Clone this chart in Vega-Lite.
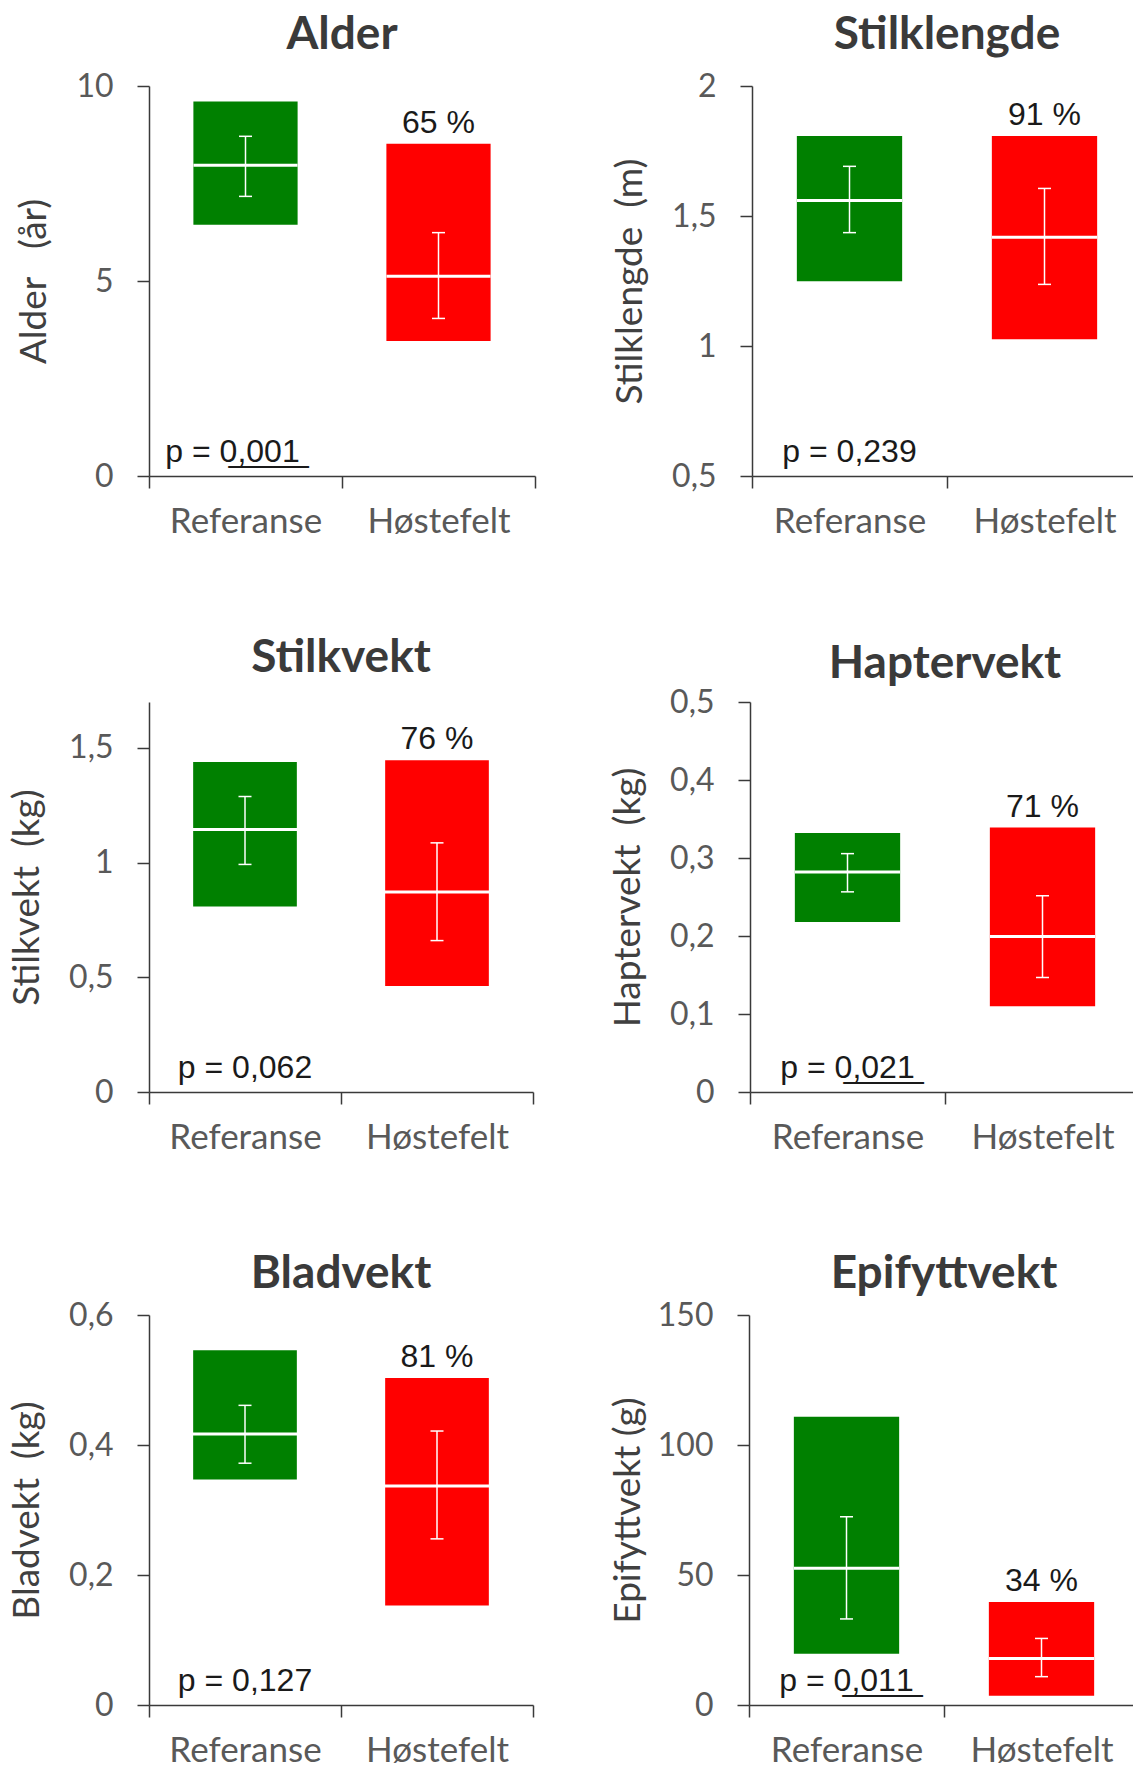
{
  "$schema": "https://vega.github.io/schema/vega-lite/v6.json",
  "padding": {"left": 8, "top": 12, "right": 0, "bottom": 0},
  "background": "white",
  "datasets": {
    "d": [
      {"panel": "Alder", "group": "Referanse", "lo": 6.44, "hi": 9.6, "mean": 7.97, "elo": 7.17, "ehi": 8.71, "pct": null, "p": "p = 0\u0332,\u03320\u03320\u03321\u0332"},
      {"panel": "Alder", "group": "Høstefelt", "lo": 3.46, "hi": 8.52, "mean": 5.12, "elo": 4.04, "ehi": 6.24, "pct": "65 %", "p": null},
      {"panel": "Stilklengde", "group": "Referanse", "lo": 1.249, "hi": 1.808, "mean": 1.56, "elo": 1.436, "ehi": 1.691, "pct": null, "p": "p = 0,239"},
      {"panel": "Stilklengde", "group": "Høstefelt", "lo": 1.026, "hi": 1.808, "mean": 1.418, "elo": 1.237, "ehi": 1.606, "pct": "91 %", "p": null},
      {"panel": "Stilkvekt", "group": "Referanse", "lo": 0.809, "hi": 1.438, "mean": 1.144, "elo": 0.992, "ehi": 1.288, "pct": null, "p": "p = 0,062"},
      {"panel": "Stilkvekt", "group": "Høstefelt", "lo": 0.462, "hi": 1.446, "mean": 0.872, "elo": 0.66, "ehi": 1.086, "pct": "76 %", "p": null},
      {"panel": "Haptervekt", "group": "Referanse", "lo": 0.218, "hi": 0.332, "mean": 0.282, "elo": 0.2566, "ehi": 0.3056, "pct": null, "p": "p = 0\u0332,\u03320\u03322\u03321\u0332"},
      {"panel": "Haptervekt", "group": "Høstefelt", "lo": 0.11, "hi": 0.339, "mean": 0.1995, "elo": 0.1468, "ehi": 0.2516, "pct": "71 %", "p": null},
      {"panel": "Bladvekt", "group": "Referanse", "lo": 0.347, "hi": 0.5456, "mean": 0.417, "elo": 0.372, "ehi": 0.461, "pct": null, "p": "p = 0,127"},
      {"panel": "Bladvekt", "group": "Høstefelt", "lo": 0.153, "hi": 0.503, "mean": 0.337, "elo": 0.2556, "ehi": 0.4215, "pct": "81 %", "p": null},
      {"panel": "Epifyttvekt", "group": "Referanse", "lo": 19.7, "hi": 110.9, "mean": 52.6, "elo": 33.1, "ehi": 72.4, "pct": null, "p": "p = 0\u0332,\u03320\u03321\u03321\u0332"},
      {"panel": "Epifyttvekt", "group": "Høstefelt", "lo": 3.6, "hi": 39.6, "mean": 17.9, "elo": 10.9, "ehi": 25.6, "pct": "34 %", "p": null}
    ]
  },
  "vconcat": [
    {"hconcat": [
      {
        "width": 386, "height": 390,
        "title": {"text": "Alder", "offset": 11},
        "data": {"name": "d"},
        "transform": [{"filter": "datum.panel === 'Alder'"}],
        "encoding": {"x": {"field": "group", "type": "nominal", "sort": ["Referanse", "Høstefelt"], "scale": {"paddingInner": 0, "paddingOuter": 0}, "title": null}},
        "layer": [
          {"mark": {"type": "bar", "width": {"band": 0.54}}, "encoding": {"y": {"field": "lo", "type": "quantitative", "title": "Alder\u00a0\u00a0\u00a0(år)", "scale": {"domain": [0, 10], "nice": false, "zero": false}, "axis": {"values": [0, 5, 10]}}, "y2": {"field": "hi"}, "color": {"field": "group", "type": "nominal", "scale": {"domain": ["Referanse", "Høstefelt"], "range": ["#008000", "#FF0000"]}, "legend": null}}},
          {"mark": {"type": "tick", "color": "white", "thickness": 3, "size": 104, "opacity": 1}, "encoding": {"y": {"field": "mean", "type": "quantitative", "title": "Alder\u00a0\u00a0\u00a0(år)"}}},
          {"mark": {"type": "rule", "color": "white", "strokeWidth": 1.5}, "encoding": {"y": {"field": "elo", "type": "quantitative", "title": "Alder\u00a0\u00a0\u00a0(år)"}, "y2": {"field": "ehi"}}},
          {"mark": {"type": "tick", "color": "white", "thickness": 1.5, "size": 13, "opacity": 1}, "encoding": {"y": {"field": "elo", "type": "quantitative", "title": "Alder\u00a0\u00a0\u00a0(år)"}}},
          {"mark": {"type": "tick", "color": "white", "thickness": 1.5, "size": 13, "opacity": 1}, "encoding": {"y": {"field": "ehi", "type": "quantitative", "title": "Alder\u00a0\u00a0\u00a0(år)"}}},
          {"transform": [{"filter": "datum.pct"}], "mark": {"type": "text", "dy": -11, "baseline": "alphabetic", "font": "Liberation Sans", "fontSize": 32, "color": "#1a1a1a"}, "encoding": {"y": {"field": "hi", "type": "quantitative", "title": "Alder\u00a0\u00a0\u00a0(år)"}, "text": {"field": "pct"}}},
          {"transform": [{"filter": "datum.p"}], "mark": {"type": "text", "dy": -14, "dx": -13, "baseline": "alphabetic", "font": "Liberation Sans", "fontSize": 32, "color": "#1a1a1a"}, "encoding": {"y": {"datum": 0}, "text": {"field": "p"}}}
        ]
      },
      {
        "width": 390, "height": 390,
        "title": {"text": "Stilklengde", "offset": 11},
        "data": {"name": "d"},
        "transform": [{"filter": "datum.panel === 'Stilklengde'"}],
        "encoding": {"x": {"field": "group", "type": "nominal", "sort": ["Referanse", "Høstefelt"], "scale": {"paddingInner": 0, "paddingOuter": 0}, "title": null}},
        "layer": [
          {"mark": {"type": "bar", "width": {"band": 0.54}}, "encoding": {"y": {"field": "lo", "type": "quantitative", "title": "Stilklengde\u00a0\u00a0(m)", "scale": {"domain": [0.5, 2], "nice": false, "zero": false}, "axis": {"values": [0.5, 1, 1.5, 2]}}, "y2": {"field": "hi"}, "color": {"field": "group", "type": "nominal", "scale": {"domain": ["Referanse", "Høstefelt"], "range": ["#008000", "#FF0000"]}, "legend": null}}},
          {"mark": {"type": "tick", "color": "white", "thickness": 3, "size": 105, "opacity": 1}, "encoding": {"y": {"field": "mean", "type": "quantitative", "title": "Stilklengde\u00a0\u00a0(m)"}}},
          {"mark": {"type": "rule", "color": "white", "strokeWidth": 1.5}, "encoding": {"y": {"field": "elo", "type": "quantitative", "title": "Stilklengde\u00a0\u00a0(m)"}, "y2": {"field": "ehi"}}},
          {"mark": {"type": "tick", "color": "white", "thickness": 1.5, "size": 13, "opacity": 1}, "encoding": {"y": {"field": "elo", "type": "quantitative", "title": "Stilklengde\u00a0\u00a0(m)"}}},
          {"mark": {"type": "tick", "color": "white", "thickness": 1.5, "size": 13, "opacity": 1}, "encoding": {"y": {"field": "ehi", "type": "quantitative", "title": "Stilklengde\u00a0\u00a0(m)"}}},
          {"transform": [{"filter": "datum.pct"}], "mark": {"type": "text", "dy": -11, "baseline": "alphabetic", "font": "Liberation Sans", "fontSize": 32, "color": "#1a1a1a"}, "encoding": {"y": {"field": "hi", "type": "quantitative", "title": "Stilklengde\u00a0\u00a0(m)"}, "text": {"field": "pct"}}},
          {"transform": [{"filter": "datum.p"}], "mark": {"type": "text", "dy": -14, "baseline": "alphabetic", "font": "Liberation Sans", "fontSize": 32, "color": "#1a1a1a"}, "encoding": {"y": {"datum": 0.5}, "text": {"field": "p"}}}
        ]
      }
    ]},
    {"hconcat": [
      {
        "width": 384, "height": 390,
        "title": {"text": "Stilkvekt", "offset": 20},
        "data": {"name": "d"},
        "transform": [{"filter": "datum.panel === 'Stilkvekt'"}],
        "encoding": {"x": {"field": "group", "type": "nominal", "sort": ["Referanse", "Høstefelt"], "scale": {"paddingInner": 0, "paddingOuter": 0}, "title": null}},
        "layer": [
          {"mark": {"type": "bar", "width": {"band": 0.54}}, "encoding": {"y": {"field": "lo", "type": "quantitative", "title": "Stilkvekt\u00a0\u00a0(kg)", "scale": {"domain": [0, 1.7], "nice": false, "zero": false}, "axis": {"values": [0, 0.5, 1, 1.5]}}, "y2": {"field": "hi"}, "color": {"field": "group", "type": "nominal", "scale": {"domain": ["Referanse", "Høstefelt"], "range": ["#008000", "#FF0000"]}, "legend": null}}},
          {"mark": {"type": "tick", "color": "white", "thickness": 3, "size": 104, "opacity": 1}, "encoding": {"y": {"field": "mean", "type": "quantitative", "title": "Stilkvekt\u00a0\u00a0(kg)"}}},
          {"mark": {"type": "rule", "color": "white", "strokeWidth": 1.5}, "encoding": {"y": {"field": "elo", "type": "quantitative", "title": "Stilkvekt\u00a0\u00a0(kg)"}, "y2": {"field": "ehi"}}},
          {"mark": {"type": "tick", "color": "white", "thickness": 1.5, "size": 13, "opacity": 1}, "encoding": {"y": {"field": "elo", "type": "quantitative", "title": "Stilkvekt\u00a0\u00a0(kg)"}}},
          {"mark": {"type": "tick", "color": "white", "thickness": 1.5, "size": 13, "opacity": 1}, "encoding": {"y": {"field": "ehi", "type": "quantitative", "title": "Stilkvekt\u00a0\u00a0(kg)"}}},
          {"transform": [{"filter": "datum.pct"}], "mark": {"type": "text", "dy": -11, "baseline": "alphabetic", "font": "Liberation Sans", "fontSize": 32, "color": "#1a1a1a"}, "encoding": {"y": {"field": "hi", "type": "quantitative", "title": "Stilkvekt\u00a0\u00a0(kg)"}, "text": {"field": "pct"}}},
          {"transform": [{"filter": "datum.p"}], "mark": {"type": "text", "dy": -14, "baseline": "alphabetic", "font": "Liberation Sans", "fontSize": 32, "color": "#1a1a1a"}, "encoding": {"y": {"datum": 0}, "text": {"field": "p"}}}
        ]
      },
      {
        "width": 390, "height": 390,
        "title": {"text": "Haptervekt", "offset": -2},
        "data": {"name": "d"},
        "transform": [{"filter": "datum.panel === 'Haptervekt'"}],
        "encoding": {"x": {"field": "group", "type": "nominal", "sort": ["Referanse", "Høstefelt"], "scale": {"paddingInner": 0, "paddingOuter": 0}, "title": null}},
        "layer": [
          {"mark": {"type": "bar", "width": {"band": 0.54}}, "encoding": {"y": {"field": "lo", "type": "quantitative", "title": "Haptervekt\u00a0\u00a0(kg)", "scale": {"domain": [0, 0.5], "nice": false, "zero": false}, "axis": {"values": [0, 0.1, 0.2, 0.3, 0.4, 0.5]}}, "y2": {"field": "hi"}, "color": {"field": "group", "type": "nominal", "scale": {"domain": ["Referanse", "Høstefelt"], "range": ["#008000", "#FF0000"]}, "legend": null}}},
          {"mark": {"type": "tick", "color": "white", "thickness": 3, "size": 105, "opacity": 1}, "encoding": {"y": {"field": "mean", "type": "quantitative", "title": "Haptervekt\u00a0\u00a0(kg)"}}},
          {"mark": {"type": "rule", "color": "white", "strokeWidth": 1.5}, "encoding": {"y": {"field": "elo", "type": "quantitative", "title": "Haptervekt\u00a0\u00a0(kg)"}, "y2": {"field": "ehi"}}},
          {"mark": {"type": "tick", "color": "white", "thickness": 1.5, "size": 13, "opacity": 1}, "encoding": {"y": {"field": "elo", "type": "quantitative", "title": "Haptervekt\u00a0\u00a0(kg)"}}},
          {"mark": {"type": "tick", "color": "white", "thickness": 1.5, "size": 13, "opacity": 1}, "encoding": {"y": {"field": "ehi", "type": "quantitative", "title": "Haptervekt\u00a0\u00a0(kg)"}}},
          {"transform": [{"filter": "datum.pct"}], "mark": {"type": "text", "dy": -11, "baseline": "alphabetic", "font": "Liberation Sans", "fontSize": 32, "color": "#1a1a1a"}, "encoding": {"y": {"field": "hi", "type": "quantitative", "title": "Haptervekt\u00a0\u00a0(kg)"}, "text": {"field": "pct"}}},
          {"transform": [{"filter": "datum.p"}], "mark": {"type": "text", "dy": -14, "baseline": "alphabetic", "font": "Liberation Sans", "fontSize": 32, "color": "#1a1a1a"}, "encoding": {"y": {"datum": 0}, "text": {"field": "p"}}}
        ]
      }
    ]},
    {"hconcat": [
      {
        "width": 384, "height": 390,
        "title": {"text": "Bladvekt", "offset": 1},
        "data": {"name": "d"},
        "transform": [{"filter": "datum.panel === 'Bladvekt'"}],
        "encoding": {"x": {"field": "group", "type": "nominal", "sort": ["Referanse", "Høstefelt"], "scale": {"paddingInner": 0, "paddingOuter": 0}, "title": null}},
        "layer": [
          {"mark": {"type": "bar", "width": {"band": 0.54}}, "encoding": {"y": {"field": "lo", "type": "quantitative", "title": "Bladvekt\u00a0\u00a0(kg)", "scale": {"domain": [0, 0.6], "nice": false, "zero": false}, "axis": {"values": [0, 0.2, 0.4, 0.6]}}, "y2": {"field": "hi"}, "color": {"field": "group", "type": "nominal", "scale": {"domain": ["Referanse", "Høstefelt"], "range": ["#008000", "#FF0000"]}, "legend": null}}},
          {"mark": {"type": "tick", "color": "white", "thickness": 3, "size": 104, "opacity": 1}, "encoding": {"y": {"field": "mean", "type": "quantitative", "title": "Bladvekt\u00a0\u00a0(kg)"}}},
          {"mark": {"type": "rule", "color": "white", "strokeWidth": 1.5}, "encoding": {"y": {"field": "elo", "type": "quantitative", "title": "Bladvekt\u00a0\u00a0(kg)"}, "y2": {"field": "ehi"}}},
          {"mark": {"type": "tick", "color": "white", "thickness": 1.5, "size": 13, "opacity": 1}, "encoding": {"y": {"field": "elo", "type": "quantitative", "title": "Bladvekt\u00a0\u00a0(kg)"}}},
          {"mark": {"type": "tick", "color": "white", "thickness": 1.5, "size": 13, "opacity": 1}, "encoding": {"y": {"field": "ehi", "type": "quantitative", "title": "Bladvekt\u00a0\u00a0(kg)"}}},
          {"transform": [{"filter": "datum.pct"}], "mark": {"type": "text", "dy": -11, "baseline": "alphabetic", "font": "Liberation Sans", "fontSize": 32, "color": "#1a1a1a"}, "encoding": {"y": {"field": "hi", "type": "quantitative", "title": "Bladvekt\u00a0\u00a0(kg)"}, "text": {"field": "pct"}}},
          {"transform": [{"filter": "datum.p"}], "mark": {"type": "text", "dy": -14, "baseline": "alphabetic", "font": "Liberation Sans", "fontSize": 32, "color": "#1a1a1a"}, "encoding": {"y": {"datum": 0}, "text": {"field": "p"}}}
        ]
      },
      {
        "width": 390, "height": 390,
        "title": {"text": "Epifyttvekt", "offset": 1},
        "data": {"name": "d"},
        "transform": [{"filter": "datum.panel === 'Epifyttvekt'"}],
        "encoding": {"x": {"field": "group", "type": "nominal", "sort": ["Referanse", "Høstefelt"], "scale": {"paddingInner": 0, "paddingOuter": 0}, "title": null}},
        "layer": [
          {"mark": {"type": "bar", "width": {"band": 0.54}}, "encoding": {"y": {"field": "lo", "type": "quantitative", "title": "Epifyttvekt (g)", "scale": {"domain": [0, 150], "nice": false, "zero": false}, "axis": {"values": [0, 50, 100, 150], "titlePadding": 10}}, "y2": {"field": "hi"}, "color": {"field": "group", "type": "nominal", "scale": {"domain": ["Referanse", "Høstefelt"], "range": ["#008000", "#FF0000"]}, "legend": null}}},
          {"mark": {"type": "tick", "color": "white", "thickness": 3, "size": 105, "opacity": 1}, "encoding": {"y": {"field": "mean", "type": "quantitative", "title": "Epifyttvekt (g)"}}},
          {"mark": {"type": "rule", "color": "white", "strokeWidth": 1.5}, "encoding": {"y": {"field": "elo", "type": "quantitative", "title": "Epifyttvekt (g)"}, "y2": {"field": "ehi"}}},
          {"mark": {"type": "tick", "color": "white", "thickness": 1.5, "size": 13, "opacity": 1}, "encoding": {"y": {"field": "elo", "type": "quantitative", "title": "Epifyttvekt (g)"}}},
          {"mark": {"type": "tick", "color": "white", "thickness": 1.5, "size": 13, "opacity": 1}, "encoding": {"y": {"field": "ehi", "type": "quantitative", "title": "Epifyttvekt (g)"}}},
          {"transform": [{"filter": "datum.pct"}], "mark": {"type": "text", "dy": -11, "baseline": "alphabetic", "font": "Liberation Sans", "fontSize": 32, "color": "#1a1a1a"}, "encoding": {"y": {"field": "hi", "type": "quantitative", "title": "Epifyttvekt (g)"}, "text": {"field": "pct"}}},
          {"transform": [{"filter": "datum.p"}], "mark": {"type": "text", "dy": -14, "baseline": "alphabetic", "font": "Liberation Sans", "fontSize": 32, "color": "#1a1a1a"}, "encoding": {"y": {"datum": 0}, "text": {"field": "p"}}}
        ]
      }
    ]}
  ],
  "spacing": 96,
  "config": {
    "concat": {"spacing": 75},
    "view": {"stroke": null},
    "title": {"font": "Lato", "fontSize": 46, "fontWeight": "bold", "color": "#3a3a3a", "anchor": "middle", "frame": "group"},
    "axisX": {"tickBand": "extent", "labelAngle": 0, "labelFont": "Lato", "labelFontSize": 35, "labelColor": "#595959", "labelPadding": 16, "tickSize": 12, "tickWidth": 1.5, "tickColor": "#3a3a3a", "domainColor": "#3a3a3a", "domainWidth": 1.5, "grid": false},
    "axisY": {"labelFont": "Lato", "labelFontSize": 32, "labelColor": "#595959", "labelPadding": 24, "tickSize": 12, "tickWidth": 1.5, "tickColor": "#3a3a3a", "domainColor": "#3a3a3a", "domainWidth": 1.5, "grid": false, "labelExpr": "replace(toString(datum.value), '.', ',')", "titleFont": "Lato", "titleFontSize": 37, "titleFontWeight": "normal", "titleColor": "#404040", "titlePadding": 22}
  }
}
